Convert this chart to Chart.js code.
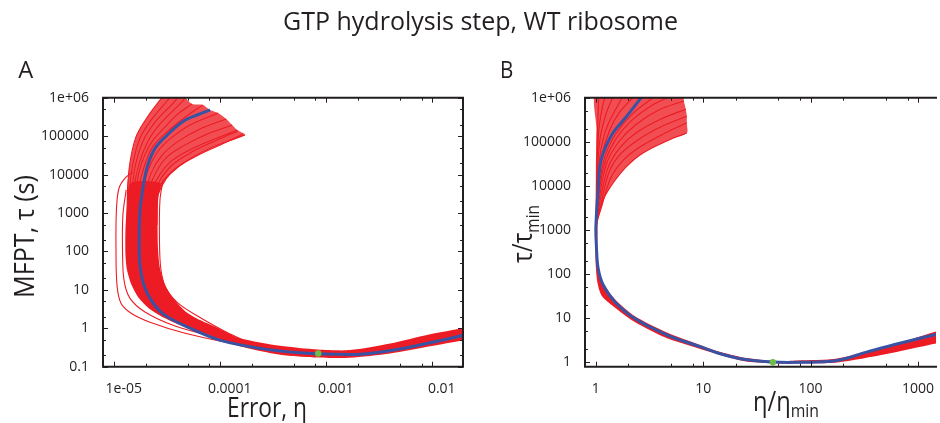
<!DOCTYPE html>
<html>
<head>
<meta charset="utf-8">
<script src="https://cdn.jsdelivr.net/npm/chart.js@4.4.0/dist/chart.umd.min.js"></script>
<style>
  html, body { margin: 0; padding: 0; background: #fff; }
  #wrap { position: relative; width: 940px; height: 423px; overflow: hidden; }
  #wrap canvas { position: absolute; left: 0; top: 0; }
</style>
</head>
<body>
<div id="wrap">
  <canvas id="panelA" width="940" height="423"></canvas>
  <canvas id="panelB" width="940" height="423"></canvas>
</div>
<script>
const chartTitle = 'GTP hydrolysis step, WT ribosome';
const xTitleA = 'Error, η';
const yTitleA = 'MFPT, τ (s)';
const xTitleB = ['η/η', 'min'];
const yTitleB = ['τ/τ', 'min'];

// tick labels
const xTickValsA = [1e-5, 1e-4, 1e-3, 1e-2];
const xTickLabelsA = ['1e-05', '0.0001', '0.001', '0.01'];
const yTickValsA = [0.1, 1, 10, 100, 1000, 10000, 100000, 1000000];
const yTickLabelsA = ['0.1', '1', '10', '100', '1000', '10000', '100000', '1e+06'];
const xTickValsB = [1, 10, 100, 1000];
const xTickLabelsB = ['1', '10', '100', '1000'];
const yTickValsB = [1, 10, 100, 1000, 10000, 100000, 1000000];
const yTickLabelsB = ['1', '10', '100', '1000', '10000', '100000', '1e+06'];
const minorX = [2, 5, 8];
const minorY = [2, 5];

// ---------- panel A: [eta, tau] ----------
const optimumA = [[8.5e-4, 0.22]];
const meanA = [[8.1e-5,4.8e5],[6.2e-5,3.6e5],[4.5e-5,2.4e5],[3.2e-5,1.07e5],[2.45e-5,4.8e4],[2.05e-5,1.45e4],
  [1.84e-5,2.9e3],[1.76e-5,1.0e3],[1.74e-5,200],[1.76e-5,50],[1.9e-5,15],[2.2e-5,6],[2.9e-5,2.4],[4.9e-5,1.09],
  [1.0e-4,0.49],[2.4e-4,0.30],[5.7e-4,0.23],[1.2e-3,0.21],[2.3e-3,0.215],[5.0e-3,0.29],[1.05e-2,0.44],[2.1e-2,0.68]];
// dense part of the ensemble (outline)
const coreA = [[0.022,1.07],[0.0197,1.0],[0.00964,0.70],[0.00405,0.40],[0.00169,0.27],[8.45e-4,0.28],[3.71e-4,0.35],
  [1.55e-4,0.55],[1.01e-4,0.95],[6.52e-5,1.63],[4.71e-5,2.79],[3.63e-5,6.1],[3.05e-5,13.2],[2.73e-5,36.7],[2.62e-5,108],
  [2.59e-5,650],[2.62e-5,2.9e3],[2.75e-5,6.0e3],[1.45e-5,6.0e3],[1.335e-5,1.6e3],[1.29e-5,359],[1.29e-5,80],
  [1.335e-5,32.6],[1.46e-5,14.1],[1.7e-5,6.45],[2.2e-5,3.14],[3.05e-5,1.83],[4.71e-5,1.07],[8.1e-5,0.66],[1.55e-4,0.34],
  [3.71e-4,0.205],[8.45e-4,0.174],[1.69e-3,0.17],[4.05e-3,0.22],[9.64e-3,0.34],[0.0197,0.49],[0.022,0.52]];
const fanA = [[1.335e-5,2.2e3],[1.335e-5,4.0e3],[1.42e-5,2.0e4],[1.65e-5,1.07e5],[2.05e-5,3.0e5],[2.73e-5,8.7e5],
  [2.92e-5,1.41e6],[4.81e-5,1.41e6],[4.81e-5,9.8e5],[5.48e-5,6.9e5],[6.96e-5,6.5e5],[8.1e-5,4.8e5],[9.64e-5,4.0e5],
  [1.15e-4,2.8e5],[1.31e-4,1.95e5],[1.46e-4,1.44e5],[1.73e-4,1.07e5],[8.65e-5,5.2e4],[5.02e-5,2.4e4],[3.40e-5,1.03e4],
  [2.92e-5,5.7e3],[2.62e-5,2.75e3],[2.56e-5,480]];
const strandsA = [
  [[1.335e-5,650],[1.35e-5,4.0e3],[1.42e-5,2.0e4],[1.62e-5,9.5e4],[2.02e-5,2.8e5],[2.73e-5,8.7e5],[2.98e-5,1.11e6]],
  [[1.39e-5,650],[1.41e-5,4.0e3],[1.52e-5,2.0e4],[1.77e-5,8.9e4],[2.25e-5,2.6e5],[3.18e-5,8.2e5],[3.47e-5,1.11e6]],
  [[1.46e-5,650],[1.49e-5,4.0e3],[1.62e-5,2.0e4],[1.93e-5,8.4e4],[2.51e-5,2.5e5],[3.71e-5,7.7e5],[4.13e-5,1.11e6]],
  [[1.52e-5,650],[1.55e-5,4.0e3],[1.73e-5,1.9e4],[2.11e-5,7.5e4],[2.79e-5,2.2e5],[4.31e-5,7.3e5],[4.81e-5,1.05e6]],
  [[1.59e-5,650],[1.62e-5,4.0e3],[1.81e-5,1.77e4],[2.25e-5,6.6e4],[3.05e-5,1.73e5],[4.04e-5,3.8e5],[5.48e-5,6.9e5]],
  [[1.66e-5,650],[1.70e-5,3.5e3],[1.93e-5,1.57e4],[2.35e-5,5.5e4],[3.25e-5,1.36e5],[4.71e-5,3.1e5],[6.96e-5,6.5e5]],
  [[1.85e-5,650],[1.89e-5,3.3e3],[2.11e-5,1.31e4],[2.62e-5,4.1e4],[3.47e-5,8.9e4],[5.25e-5,1.95e5],[9.64e-5,4.0e5]],
  [[1.93e-5,650],[1.97e-5,2.9e3],[2.25e-5,1.09e4],[2.86e-5,3.2e4],[3.96e-5,7.0e4],[6.24e-5,1.44e5],[1.15e-4,2.8e5]],
  [[2.02e-5,650],[2.06e-5,2.8e3],[2.40e-5,9.1e3],[3.11e-5,2.7e4],[4.51e-5,5.5e4],[7.27e-5,1.07e5],[1.31e-4,1.95e5]],
  [[2.11e-5,650],[2.15e-5,2.4e3],[2.56e-5,7.6e3],[3.40e-5,2.1e4],[5.13e-5,4.3e4],[8.46e-5,7.9e4],[1.46e-4,1.44e5]],
  [[2.25e-5,650],[2.30e-5,2.2e3],[2.67e-5,6.4e3],[3.55e-5,1.77e4],[5.48e-5,3.9e4],[9.03e-5,7.5e4],[1.49e-4,1.36e5]],
  [[2.40e-5,650],[2.45e-5,2.2e3],[2.79e-5,5.7e3],[3.87e-5,1.48e4],[5.98e-5,3.0e4],[1.01e-4,5.9e4],[1.66e-4,1.14e5]],
  [[2.56e-5,480],[2.62e-5,2.8e3],[2.92e-5,5.7e3],[3.40e-5,1.03e4],[5.02e-5,2.4e4],[8.65e-5,5.2e4],[1.73e-4,1.07e5]],
  // loose curves at the edges of the band
  [[1.52e-5,1.16e4],[1.28e-5,8.1e3],[1.12e-5,4.4e3],[1.06e-5,1.2e3],[1.05e-5,108],[1.074e-5,13.1],[1.17e-5,4.5],
   [1.46e-5,2.47],[2.2e-5,1.44],[4.71e-5,0.745],[1.55e-4,0.363],[3.7e-4,0.22],[8.0e-4,0.18]],
  [[1.31e-5,4.0e3],[1.22e-5,880],[1.21e-5,108],[1.25e-5,17.9],[1.42e-5,6.1],[1.97e-5,2.66],[3.79e-5,1.15],[1.01e-4,0.55],
   [2.5e-4,0.3],[6.0e-4,0.2]],
  [[2.92e-5,7.2e3],[2.73e-5,2.2e3],[2.70e-5,197],[2.79e-5,32.6],[3.11e-5,11.1],[4.04e-5,4.5],[6.52e-5,1.9],
   [1.1e-4,0.85],[1.6e-4,0.52]]
];

// ---------- panel B: [eta/eta_min, tau/tau_min] ----------
const optimumB = [[44.5, 1.0]];
const meanB = [[2.86,1.3e6],[2.64,1.0e6],[1.92,3.7e5],[1.42,1.5e5],[1.12,3.9e4],[1.05,8.1e3],[1.0,1.19e3],[1.01,457],
  [1.05,135],[1.17,56.6],[1.5,23.7],[2.29,9.95],[4.63,4.16],[9.4,2.26],[13.9,1.6],[23.5,1.17],[45,1.01],[80,1.0],
  [170,1.08],[333,1.7],[676,2.7],[1600,4.5]];
const coreB = [[1636,5.4],[1472,4.99],[509,2.28],[177,1.22],[75.6,1.1],[44.5,1.07],[23.6,1.29],[13.9,1.76],[9.07,2.54],
  [4.6,4.74],[2.29,11.2],[1.5,27.2],[1.16,66],[1.054,153],[1.032,457],[1.032,1.3e3],[0.989,1.3e3],[0.989,457],
  [1.0,137],[1.043,57],[1.136,31.9],[1.404,19.9],[2.145,9.1],[4.32,3.75],[9.07,2.06],[23.6,1.07],[44.5,0.95],
  [75.6,0.95],[177,0.99],[509,1.54],[1472,2.67],[1636,2.81]];
const fanB = [[0.989,1.3e3],[1.0,2.3e4],[1.011,2.0e5],[1.021,1.4e6],[6.5,1.4e6],[6.60,8.4e5],[6.88,5.5e5],[7.03,3.8e5],
  [7.03,2.7e5],[7.03,1.58e5],[4.80,1.1e5],[2.726,5.5e4],[1.918,2.7e4],[1.443,1.15e4],[1.167,4.8e3],[1.05,2.0e3],
  [1.021,1.23e3]];
const strandsB = [
  [[1.011,1.69e3],[1.021,3.9e4],[1.043,3.1e5],[1.066,1.15e6]],
  [[1.011,1.69e3],[1.026,2.3e4],[1.066,1.85e5],[1.16,6.8e5],[1.236,1.15e6]],
  [[1.011,1.69e3],[1.032,1.77e4],[1.089,1.1e5],[1.236,4.1e5],[1.465,1.15e6]],
  [[1.011,1.69e3],[1.043,1.36e4],[1.112,6.5e4],[1.29,2.4e5],[1.811,1.15e6]],
  [[1.011,1.69e3],[1.043,1.05e4],[1.136,5.0e4],[1.346,1.85e5],[1.663,4.7e5],[2.335,1.15e6]],
  [[1.011,1.69e3],[1.066,8.9e3],[1.21,4.5e4],[1.528,1.5e5],[2.145,4.1e5],[3.57,1.09e6]],
  [[1.021,1.69e3],[1.077,8.1e3],[1.236,3.9e4],[1.561,1.22e5],[2.239,3.3e5],[3.494,7.2e5],[5.01,1.09e6]],
  [[1.021,1.69e3],[1.089,6.2e3],[1.263,3.3e4],[1.629,9.9e4],[2.335,2.4e5],[3.885,5.3e5],[6.60,8.4e5]],
  [[1.021,1.69e3],[1.1,4.8e3],[1.29,2.5e4],[1.663,7.2e4],[2.436,1.67e5],[4.053,3.3e5],[6.88,5.5e5]],
  [[1.021,1.69e3],[1.112,3.7e3],[1.317,1.96e4],[1.699,5.3e4],[2.542,1.16e5],[4.228,2.3e5],[7.03,3.8e5]],
  [[1.021,1.52e3],[1.124,3.2e3],[1.375,1.51e4],[1.811,3.9e4],[2.652,8.0e4],[4.41,1.58e5],[7.03,2.7e5]],
  [[1.021,1.23e3],[1.05,2.0e3],[1.167,4.8e3],[1.443,1.15e4],[1.918,2.7e4],[2.726,5.5e4],[4.80,1.1e5],[7.03,1.58e5]]
];

const RED = '#ed1c24';
const FAN = 'rgba(237, 28, 36, 0.78)';
const BLUE = '#3953a4';
const GREEN = '#6cbe45';
const INK = '#231f20';
const FONT = '"Open Sans", "DejaVu Sans", sans-serif';

const pts = arr => arr.map(([x, y]) => ({ x, y }));
const curve = (arr, color, width) => ({
  data: pts(arr), showLine: true, borderColor: color, borderWidth: width,
  pointRadius: 0, tension: 0.35, fill: false, clip: 0
});
const shape = (arr, color) => ({
  data: pts(arr), showLine: true, borderWidth: 0, backgroundColor: color,
  pointRadius: 0, tension: 0.25, fill: 'shape', clip: 0
});
const dot = arr => ({
  data: pts(arr), showLine: false, pointRadius: 3.2, pointBackgroundColor: GREEN, pointBorderWidth: 0
});

const labelFor = (vals, labels) => v => {
  const i = vals.findIndex(t => Math.abs(Math.log10(v / t)) < 1e-6);
  return i < 0 ? '' : labels[i];
};

function logMarks(min, max, minors) {
  const out = [];
  for (let e = Math.floor(Math.log10(min)); e <= Math.ceil(Math.log10(max)); e++) {
    [1, ...minors].forEach(m => {
      const v = m * Math.pow(10, e);
      if (v >= min * 0.999 && v <= max * 1.001) out.push({ v, major: m === 1 });
    });
  }
  return out;
}

// inward frame ticks like the original figure
const frameTicks = (withRight) => ({
  id: 'frameTicks',
  afterDatasetsDraw(chart) {
    const { ctx, chartArea: a } = chart;
    const x = chart.scales.x, y = chart.scales.y;
    ctx.save();
    ctx.strokeStyle = INK;
    ctx.lineWidth = 1;
    ctx.beginPath();
    logMarks(x.min, x.max, minorX).forEach(t => {
      const px = Math.round(x.getPixelForValue(t.v)) + 0.5;
      const len = t.major ? 5 : 3;
      ctx.moveTo(px, a.bottom); ctx.lineTo(px, a.bottom - len);
      ctx.moveTo(px, a.top); ctx.lineTo(px, a.top + len);
    });
    logMarks(y.min, y.max, minorY).forEach(t => {
      const py = Math.round(y.getPixelForValue(t.v)) + 0.5;
      const len = t.major ? 5 : 3;
      ctx.moveTo(a.left, py); ctx.lineTo(a.left + len, py);
      if (withRight) { ctx.moveTo(a.right, py); ctx.lineTo(a.right - len, py); }
    });
    ctx.stroke();
    ctx.lineWidth = 2;
    ctx.beginPath();
    ctx.moveTo(a.right + 1, a.top); ctx.lineTo(a.left, a.top);
    ctx.lineTo(a.left, a.bottom); ctx.lineTo(a.right + 1, a.bottom);
    if (withRight) { ctx.moveTo(a.right, a.top - 1); ctx.lineTo(a.right, a.bottom + 1); }
    ctx.stroke();
    ctx.restore();
  }
});

function fitText(ctx, parts, x, y, width, rotate) {
  ctx.save();
  ctx.translate(x, y);
  if (rotate) ctx.rotate(-Math.PI / 2);
  let total = 0;
  const w = parts.map(p => { ctx.font = p.size + 'px ' + FONT; const m = ctx.measureText(p.t).width; total += m; return m; });
  ctx.scale(width / total, 1);
  ctx.fillStyle = INK;
  ctx.textAlign = 'left';
  ctx.textBaseline = 'alphabetic';
  let cx = -total / 2;
  parts.forEach((p, i) => { ctx.font = p.size + 'px ' + FONT; ctx.fillText(p.t, cx, p.dy || 0); cx += w[i]; });
  ctx.restore();
}

const panelText = items => ({
  id: 'panelText',
  afterDraw(chart) { items.forEach(it => fitText(chart.ctx, it.parts, it.x, it.y, it.w, it.rotate)); }
});

function logAxis(min, max, vals, labels, extra) {
  return Object.assign({
    type: 'logarithmic', min, max,
    grid: { display: false }, border: { display: false },
    ticks: { autoSkip: false, maxRotation: 0, minRotation: 0, color: INK,
             font: { family: FONT, size: 14 }, callback: labelFor(vals, labels) }
  }, extra);
}

function makeChart(id, datasets, padding, xAxis, yAxis, plugins) {
  return new Chart(document.getElementById(id), {
    type: 'scatter',
    data: { datasets },
    options: {
      responsive: false, animation: false, devicePixelRatio: 1, events: [],
      layout: { padding },
      plugins: { legend: { display: false }, tooltip: { enabled: false } },
      scales: { x: xAxis, y: yAxis }
    },
    plugins
  });
}

const xFit = h => s => { s.height = h; s.paddingLeft = 0; s.paddingRight = 0; };
const yFit = w => s => { s.width = w; s.paddingTop = 0; s.paddingBottom = 0; };

// panel A
const xA = logAxis(7.92e-6, 0.0197, xTickValsA, xTickLabelsA, { afterFit: xFit(30) });
xA.ticks.padding = 6; xA.ticks.labelOffset = 10;
const yA = logAxis(0.1, 1e6, yTickValsA, yTickLabelsA, { afterFit: yFit(93) });
yA.ticks.padding = 6;
makeChart('panelA', [
  dot(optimumA),
  curve(meanA, BLUE, 3),
  ...strandsA.map(s => curve(s, RED, 1.1)),
  shape(coreA, RED),
  shape(fanA, FAN)
], { left: 10, top: 97.7, right: 477, bottom: 26.3 }, xA, yA, [
  frameTicks(true),
  panelText([
    { parts: [{ t: chartTitle, size: 25 }], x: 480.5, y: 30, w: 395 },
    { parts: [{ t: 'A', size: 23 }], x: 25.8, y: 78.3, w: 15 },
    { parts: [{ t: xTitleA, size: 27 }], x: 267, y: 417, w: 80 },
    { parts: [{ t: yTitleA, size: 27 }], x: 33.5, y: 236.5, w: 123, rotate: true }
  ])
]);

// panel B
const xB = logAxis(0.792, 1472, xTickValsB, xTickLabelsB, { afterFit: xFit(30) });
xB.ticks.padding = 6;
const yB = logAxis(0.795, 1e6, yTickValsB, yTickLabelsB, { afterFit: yFit(100) });
yB.ticks.padding = 6;
makeChart('panelB', [
  dot(optimumB),
  curve(meanB, BLUE, 3),
  ...strandsB.map(s => curve(s, RED, 1.1)),
  shape(coreB, RED),
  shape(fanB, FAN)
], { left: 485, top: 97.7, right: 0, bottom: 26.3 }, xB, yB, [
  frameTicks(false),
  panelText([
    { parts: [{ t: 'B', size: 23 }], x: 506.7, y: 78, w: 13.3 },
    { parts: [{ t: xTitleB[0], size: 27 }, { t: xTitleB[1], size: 18, dy: 6 }], x: 786, y: 411, w: 66 },
    { parts: [{ t: yTitleB[0], size: 27 }, { t: yTitleB[1], size: 18, dy: 6.5 }], x: 532, y: 234, w: 58, rotate: true }
  ])
]);
</script>
</body>
</html>
